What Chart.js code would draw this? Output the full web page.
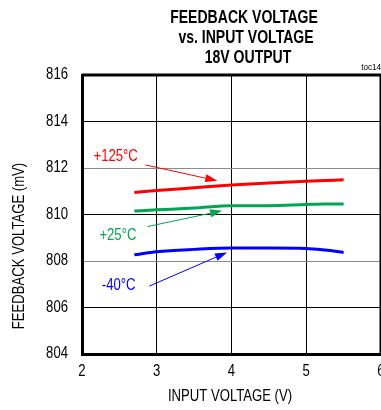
<!DOCTYPE html>
<html>
<head>
<meta charset="utf-8">
<script src="https://cdn.jsdelivr.net/npm/chart.js@4"></script>
<style>
  html, body { margin: 0; padding: 0; background: #fff; overflow: hidden; }
  #wrap { width: 381px; height: 410px; overflow: hidden; }
  canvas { display: block; }
</style>
</head>
<body>
<div id="wrap"><canvas id="grafico" width="420" height="410"></canvas></div>
<script>
// Datos
const voltajeEntrada = [2.7, 3.0, 3.5, 4.0, 4.5, 5.0, 5.25, 5.5];
const fb125 = [810.95, 811.03, 811.15, 811.27, 811.36, 811.43, 811.46, 811.49];
const fb25 = [810.15, 810.20, 810.28, 810.38, 810.38, 810.43, 810.45, 810.45];
const fbMenos40 = [808.27, 808.40, 808.50, 808.56, 808.56, 808.54, 808.47, 808.37];

const etiquetas = ['+125°C', '+25°C', '-40°C'];
const colores = ['#ff0000', '#00a651', '#0000ff'];
const xTicks = [2, 3, 4, 5, 6];
const yTicks = [804, 806, 808, 810, 812, 814, 816];

// Textos y flechas (en unidades de los ejes)
const notas = [
  { texto: etiquetas[0], color: colores[0], tx: 2.45, ty: 812.47, x1: 2.85, y1: 812.13, x2: 3.81, y2: 811.45 },
  { texto: etiquetas[1], color: colores[1], tx: 2.48, ty: 809.08, x1: 2.875, y1: 809.48, x2: 3.875, y2: 810.16 },
  { texto: etiquetas[2], color: colores[2], tx: 2.49, ty: 806.94, x1: 2.9, y1: 806.92, x2: 3.94, y2: 808.37 }
];

const FUENTE = "'Liberation Sans', Arial, sans-serif";
const ESTRECHO = 0.82; // imita Arial Narrow

function serie(ys) {
  return voltajeEntrada.map((v, i) => ({ x: v, y: ys[i] }));
}

// texto comprimido horizontalmente
function texto(ctx, s, x, y, opts) {
  ctx.save();
  ctx.font = opts.font;
  ctx.fillStyle = opts.color || '#000';
  ctx.textAlign = opts.align || 'center';
  ctx.textBaseline = 'middle';
  ctx.translate(x, y);
  if (opts.rot) ctx.rotate(opts.rot);
  ctx.scale(opts.k || ESTRECHO, 1);
  ctx.fillText(s, 0, 0);
  ctx.restore();
}

function flecha(ctx, x1, y1, x2, y2, color) {
  const ang = Math.atan2(y2 - y1, x2 - x1);
  const largo = 12, ancho = 4;
  const c = Math.cos(ang), s = Math.sin(ang);
  ctx.save();
  ctx.strokeStyle = color;
  ctx.fillStyle = color;
  ctx.lineWidth = 1;
  ctx.beginPath();
  ctx.moveTo(x1, y1);
  ctx.lineTo(x2 - largo * c, y2 - largo * s);
  ctx.stroke();
  ctx.beginPath();
  ctx.moveTo(x2, y2);
  ctx.lineTo(x2 - largo * c + ancho * s, y2 - largo * s - ancho * c);
  ctx.lineTo(x2 - largo * c - ancho * s, y2 - largo * s + ancho * c);
  ctx.closePath();
  ctx.fill();
  ctx.restore();
}

const extras = {
  id: 'extras',
  afterDraw(chart) {
    const ctx = chart.ctx;
    const a = chart.chartArea;
    const sx = chart.scales.x, sy = chart.scales.y;

    // marco superior y derecho
    ctx.save();
    ctx.strokeStyle = '#000';
    ctx.lineWidth = 3;
    ctx.beginPath();
    ctx.moveTo(a.left, a.top);
    ctx.lineTo(a.right, a.top);
    ctx.lineTo(a.right, a.bottom);
    ctx.stroke();
    ctx.restore();

    // etiquetas de los ejes
    const fTick = '16px ' + FUENTE;
    xTicks.forEach(v => texto(ctx, String(v), sx.getPixelForValue(v), 372, { font: fTick }));
    yTicks.forEach(v => texto(ctx, String(v), 68, sy.getPixelForValue(v), { font: fTick, align: 'right' }));

    // notas
    notas.forEach(n => {
      texto(ctx, n.texto, sx.getPixelForValue(n.tx), sy.getPixelForValue(n.ty),
        { font: '16px ' + FUENTE, color: n.color });
      flecha(ctx, sx.getPixelForValue(n.x1), sy.getPixelForValue(n.y1),
        sx.getPixelForValue(n.x2), sy.getPixelForValue(n.y2), n.color);
    });

    // título
    const fTit = 'bold 18px ' + FUENTE;
    texto(ctx, 'FEEDBACK VOLTAGE', 244, 18, { font: fTit, k: 0.78 });
    texto(ctx, 'vs. INPUT VOLTAGE', 246, 38.5, { font: fTit, k: 0.78 });
    texto(ctx, '18V OUTPUT', 248, 58.5, { font: fTit, k: 0.78 });
    texto(ctx, 'toc14', 381, 68, { font: '9px ' + FUENTE, align: 'right', k: 0.9 });

    // títulos de ejes
    texto(ctx, 'INPUT VOLTAGE (V)', 230, 397, { font: '16px ' + FUENTE });
    texto(ctx, 'FEEDBACK VOLTAGE (mV)', 20, 246, { font: '16px ' + FUENTE, rot: -Math.PI / 2 });
  }
};

new Chart(document.getElementById('grafico'), {
  type: 'line',
  data: {
    datasets: [fb125, fb25, fbMenos40].map((ys, i) => ({
      label: etiquetas[i],
      data: serie(ys),
      borderColor: colores[i],
      borderWidth: 3,
      pointRadius: 0,
      tension: 0.4,
      cubicInterpolationMode: 'monotone'
    }))
  },
  options: {
    responsive: false,
    animation: false,
    devicePixelRatio: 1,
    layout: { padding: { top: 75, right: 39, bottom: 0, left: 0 } },
    plugins: { legend: { display: false }, tooltip: { enabled: false } },
    scales: {
      x: {
        type: 'linear',
        min: xTicks[0],
        max: xTicks[xTicks.length - 1],
        afterBuildTicks: s => { s.ticks = xTicks.map(v => ({ value: v })); },
        ticks: { display: false },
        grid: { color: '#000', lineWidth: 1, drawTicks: false },
        border: { display: true, color: '#000', width: 3 },
        afterFit: s => { s.height = 56; }
      },
      y: {
        min: yTicks[0],
        max: yTicks[yTicks.length - 1],
        afterBuildTicks: s => { s.ticks = yTicks.map(v => ({ value: v })); },
        ticks: { display: false },
        grid: {
          color: c => (c.tick && c.tick.value % 4 === 0) ? '#8c8c8c' : '#000',
          lineWidth: 1,
          drawTicks: false
        },
        border: { display: true, color: '#000', width: 3 },
        afterFit: s => { s.width = 82; }
      }
    }
  },
  plugins: [extras]
});
</script>
</body>
</html>
